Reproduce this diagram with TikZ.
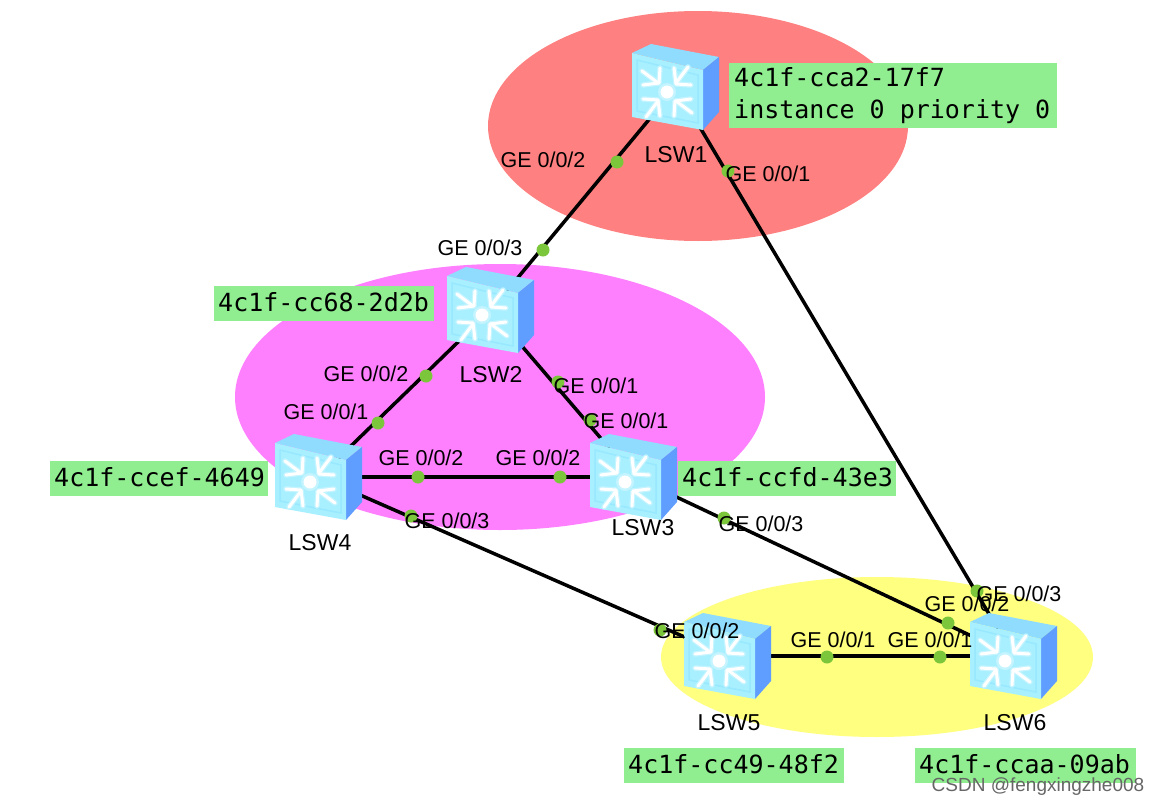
\documentclass[tikz,border=0pt]{standalone}
\usepackage{fontspec}
\usetikzlibrary{shapes.geometric}
\setmainfont{Liberation Sans}
\newfontfamily\monof{DejaVu Sans Mono}
\definecolor{sfront}{HTML}{A8F0FF}
\definecolor{sfrontin}{HTML}{98E8FF}
\definecolor{stop}{HTML}{8FDCFF}
\definecolor{sside}{HTML}{5F9DFF}
\definecolor{dotg}{HTML}{7BC63A}
\definecolor{lblg}{HTML}{90EE90}
\definecolor{chevedge}{HTML}{C4F4FF}
\newcommand{\msp}{\hspace*{15.05pt}}
\tikzset{
  x=1pt,y=-1pt,
  zone/.style={ellipse,draw=none,inner sep=0},
  link/.style={line width=3.5pt,black},
  portdot/.style={circle,fill=dotg,draw=none,minimum size=13pt,inner sep=0},
  portlbl/.style={font=\fontsize{21.5}{25}\selectfont,inner sep=0,text=black},
  swname/.style={font=\fontsize{23}{27}\selectfont,inner sep=0,text=black},
  maclbl/.style={fill=lblg,font=\monof\fontsize{25}{32.5}\selectfont,inner sep=0,align=left,anchor=west,text=black},
  swnode/.style={draw=none,inner sep=0,minimum width=78pt,minimum height=78pt},
  chevo/.style={chevedge,line width=5.5pt,line cap=round,line join=round},
  chev/.style={white,line width=3pt,line cap=round,line join=round},
  swicon/.pic={
    \fill[stop] (-44,-34) -- (-25,-43) -- (43,-30) -- (27,-17) -- cycle;
    \fill[sside] (27,-17) -- (43,-30) -- (43,25) -- (27,43) -- cycle;
    \fill[sfront] (-44,-34) -- (27,-17) -- (27,43) -- (-44,30) -- cycle;
    \draw[sfrontin,line width=1.5pt] (-39,-27) -- (22,-12) -- (22,36) -- (-39,24) -- cycle;
    \fill[chevedge] (-9,5) circle (9);
    \fill[white] (-9,5) circle (6.5);
    \foreach \r in {0,90,180,270}{
      \begin{scope}[shift={(-9,5)},rotate=\r]
        \draw[chevo] (-25,-21) -- (-9,-9);
        \draw[chevo] (-7,-24) -- (-8,-9) -- (-24,-7);
      \end{scope}
    }
    \foreach \r in {0,90,180,270}{
      \begin{scope}[shift={(-9,5)},rotate=\r]
        \draw[chev] (-25,-21) -- (-9,-9);
        \draw[chev] (-7,-24) -- (-8,-9) -- (-24,-7);
      \end{scope}
    }
  }
}
\newcommand{\switchat}[5]{%
  \node[swnode] (#1) at (#2,#3) {};
  \node[swname] (#1name) at (#4,#5) {\MakeUppercase{#1}};
}
\begin{document}
\begin{tikzpicture}
\useasboundingbox (0,0) rectangle (1160,806);
\fill[white] (0,0) rectangle (1160,806);
% zones
\node[zone,fill={rgb,255:red,255;green,128;blue,128},minimum width=420pt,minimum height=230pt] (zonered) at (698,126) {};
\node[zone,fill={rgb,255:red,255;green,128;blue,255},minimum width=530pt,minimum height=266pt] (zonemag) at (500,397) {};
\node[zone,fill={rgb,255:red,255;green,255;blue,128},minimum width=432pt,minimum height=160pt] (zoneyel) at (877,657) {};
% switches
\switchat{lsw1}{676}{87}{676}{155}
\switchat{lsw2}{491}{310}{491}{375}
\switchat{lsw3}{634}{477}{643}{528}
\switchat{lsw4}{319}{477}{320}{543}
\switchat{lsw5}{728}{656}{729}{723}
\switchat{lsw6}{1014}{656}{1015}{723}
% links
\draw[link] (lsw1.center) -- (lsw2.center);
\draw[link] (lsw1.center) -- (lsw6.center);
\draw[link] (lsw2.center) -- (lsw4.center);
\draw[link] (lsw2.center) -- (lsw3.center);
\draw[link] (lsw4.center) -- (lsw3.center);
\draw[link] (lsw4.center) -- (lsw5.center);
\draw[link] (lsw3.center) -- (lsw6.center);
\draw[link] (lsw5.center) -- (lsw6.center);
% icons
\foreach \n in {lsw1,lsw2,lsw3,lsw4,lsw5,lsw6}{\pic at (\n.center) {swicon};}
% port dots
\foreach \n/\x/\y in {a/617/162,b/543/250,c/728/171,d/977/591,e/426/376,f/378/423,g/558/382,h/590/420,i/418/477,j/560/477,k/411/516,l/660/630,m/724/518,n/948/623,o/827/657,q/940/657}{
  \node[portdot] (dot\n) at (\x,\y) {};
}
% port labels
\foreach \n/\x/\y/\t in {a/543/160/GE 0\slash 0\slash 2,c/768/174/GE 0\slash 0\slash 1,b/480/248/GE 0\slash 0\slash 3,e/366/374/GE 0\slash 0\slash 2,g/596/386/GE 0\slash 0\slash 1,f/326/412/GE 0\slash 0\slash 1,h/626/421/GE 0\slash 0\slash 1,i/421/458/GE 0\slash 0\slash 2,j/538/458/GE 0\slash 0\slash 2,k/447/521/GE 0\slash 0\slash 3,m/761/524/GE 0\slash 0\slash 3,d/1019/594/GE 0\slash 0\slash 3,n/967/604/GE 0\slash 0\slash 2,l/697/631/GE 0\slash 0\slash 2,o/833/640/GE 0\slash 0\slash 1,q/930/640/GE 0\slash 0\slash 1}{
  \node[portlbl] (lbl\n) at (\x,\y) {\t};
}
\node[maclbl,minimum height=65pt,text width=328pt] (mac1) at (729,95.5) {\hspace*{5pt}4c1f-cca2-17f7\\\hspace*{5pt}instance\msp 0\msp priority\msp 0};
\foreach \n/\x/\y/\w/\t in {mac2/214/303/220/4c1f-cc68-2d2b,mac4/50/478.5/218/4c1f-ccef-4649,mac3/678/478.5/218/4c1f-ccfd-43e3,mac5/624/765.5/220/4c1f-cc49-48f2,mac6/915/765.5/221/4c1f-ccaa-09ab}{
  \node[maclbl,minimum height=35pt,text width=\w pt] (\n) at (\x,\y) {\hspace*{4pt}\raisebox{3pt}{\t}};
}
\node[font=\fontsize{19}{22}\selectfont,text=black!60,inner sep=0] (mark) at (1038,787) {CSDN @fengxingzhe008};
\end{tikzpicture}
\end{document}
